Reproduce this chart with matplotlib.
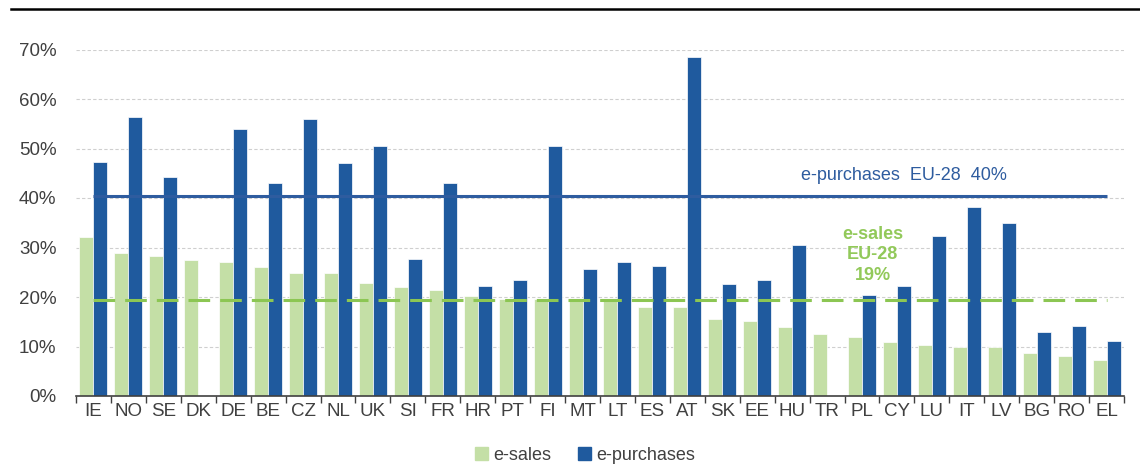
import matplotlib
matplotlib.use("Agg")
import matplotlib.pyplot as plt
from matplotlib.lines import Line2D
from matplotlib.patches import Patch
import numpy as np

plt.rcParams["font.family"] = ["Liberation Sans", "DejaVu Sans"]

countries = ["IE", "NO", "SE", "DK", "DE", "BE", "CZ", "NL", "UK", "SI", "FR", "HR", "PT", "FI",
             "MT", "LT", "ES", "AT", "SK", "EE", "HU", "TR", "PL", "CY", "LU", "IT", "LV", "BG", "RO", "EL"]
e_sales = [32.1, 28.8, 28.3, 27.5, 27.1, 26.0, 24.8, 24.8, 22.8, 22.0, 21.4, 20.2, 19.6, 19.5,
           19.5, 19.5, 18.0, 18.0, 15.6, 15.1, 13.9, 12.5, 11.9, 11.0, 10.4, 9.8, 9.8, 8.7, 8.1, 7.3]
e_purchases = [47.3, 56.3, 44.2, np.nan, 54.0, 43.0, 56.0, 47.0, 50.5, 27.7, 43.0, 22.3, 23.4, 50.5,
               25.7, 27.1, 26.3, 68.4, 22.6, 23.4, 30.6, np.nan, 20.5, 22.3, 32.3, 38.1, 35.0, 13.0, 14.2, 11.2]
eu_purchases = 40.5
eu_sales = 19.4
yticks = [0, 10, 20, 30, 40, 50, 60, 70]

GREEN = "#c4dfa6"
BLUE = "#1f5a9e"
LINE_BLUE = "#2e5c9f"
LINE_GREEN = "#8cc653"
TEXT_GREEN = "#92c95a"
TEXT = "#404040"

fig = plt.figure(figsize=(11.4, 4.68), dpi=100)
ax = fig.add_axes([76/1140, 1-396/468, (1124-76)/1140, (396-49.5)/468])

x = np.arange(len(countries))
w = 0.4
ax.bar(x - w/2, e_sales, width=w, color=GREEN, edgecolor="white", linewidth=0.5, zorder=2, label="e-sales")
ax.bar(x + w/2, np.nan_to_num(e_purchases), width=w, color=BLUE, edgecolor="white", linewidth=0.5, zorder=2, label="e-purchases")

lw = 2.2
ax.plot(x, [eu_purchases]*len(x), color=LINE_BLUE, lw=lw, zorder=3, solid_capstyle="butt")
ax.plot(x, [eu_sales]*len(x), color=LINE_GREEN, lw=lw, zorder=3, linestyle=(0, (15.6/lw, 7.2/lw)))

ax.set_xlim(-0.5, len(x) - 0.5)
ax.set_ylim(0, 70)
ax.set_yticks(yticks)
ax.set_yticklabels([f"{v}%" for v in yticks], fontsize=13.5, color=TEXT)
ax.set_xticks(x)
ax.set_xticklabels(countries, fontsize=13.5, color=TEXT)
ax.set_xticks(np.arange(-0.5, len(x), 1), minor=True)
ax.tick_params(axis="x", which="major", length=0, pad=5)
ax.tick_params(axis="x", which="minor", length=5, width=1, color="#404040", direction="out")
ax.tick_params(axis="y", length=0, pad=14)
ax.yaxis.grid(True, linestyle=(0, (3, 2)), color="#cfcfcf", lw=0.8, zorder=0)
ax.set_axisbelow(True)
for s in ["top", "right", "left"]:
    ax.spines[s].set_visible(False)
ax.spines["bottom"].set_color("#404040")
ax.spines["bottom"].set_linewidth(1.2)
ax.spines["bottom"].set_zorder(4)

ax.text(23.2, 44.6, "e-purchases  EU-28  40%", color=LINE_BLUE, fontsize=13, ha="center", va="center")
ax.text(22.3, 28.5, "e-sales\nEU-28\n19%", color=TEXT_GREEN, fontsize=13, fontweight="bold",
        ha="center", va="center", linespacing=1.3)

fig.add_artist(Line2D([11/1140, 1.0], [1-9.3/468, 1-9.3/468], color="black", lw=1.8))

handles = [Patch(color=GREEN, label="e-sales"), Patch(color=BLUE, label="e-purchases")]
leg = fig.legend(handles=handles, loc="center", bbox_to_anchor=(585/1140, 1-455/468), ncol=2,
                 frameon=False, fontsize=13, handlelength=0.7, handleheight=0.7, handletextpad=0.3,
                 columnspacing=1.5)
for t in leg.get_texts():
    t.set_color(TEXT)

fig.savefig("out.png", dpi=100)
